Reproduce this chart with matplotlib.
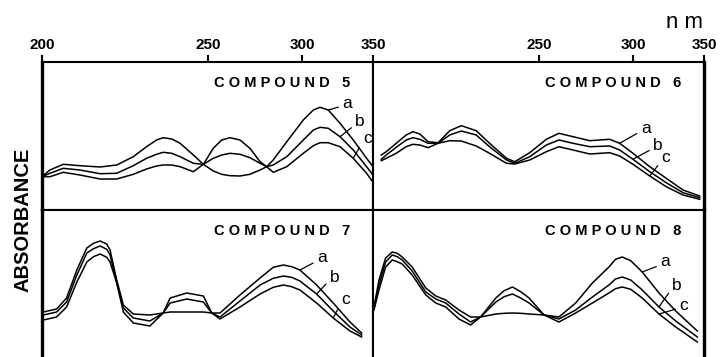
import numpy as np
import matplotlib.pyplot as plt

plt.rcParams['font.family'] = ['Liberation Sans', 'DejaVu Sans']

# Wavelength axis of the original figure is not linear in nm:
# tick positions (in axis units)
scale_nm = [200, 250, 300, 350]
scale_pos = [0, 166, 260, 331]


def fwd(x):
    return np.interp(x, scale_nm, scale_pos)


def inv(p):
    return np.interp(p, scale_pos, scale_nm)


# Compound 5
nm5 = [200, 202.4, 206.4, 211.4, 217.5, 222.5, 227.5, 231.5, 234.5, 236.5, 239.1, 241.6,
       245.6, 248.6, 252.8, 257.3, 261.7, 267.0, 272.3, 277.7, 281.2, 284.7, 291.9, 300.9,
       308.0, 312.7, 318.5, 326.8, 336.1, 345.5, 350]
c5_a = [0.333, 0.40, 0.457, 0.443, 0.43, 0.45, 0.533, 0.633, 0.70, 0.723, 0.71, 0.667,
        0.55, 0.457, 0.39, 0.357, 0.343, 0.34, 0.357, 0.40, 0.433, 0.50, 0.683, 0.90,
        1.00, 1.027, 1.00, 0.867, 0.70, 0.517, 0.433]
c5_b = [0.333, 0.367, 0.417, 0.40, 0.363, 0.367, 0.443, 0.517, 0.557, 0.577, 0.567, 0.533,
        0.467, 0.457, 0.517, 0.55, 0.567, 0.557, 0.523, 0.467, 0.433, 0.45, 0.533, 0.70,
        0.80, 0.827, 0.817, 0.733, 0.60, 0.433, 0.35]
c5_c = [0.333, 0.333, 0.377, 0.35, 0.31, 0.31, 0.357, 0.41, 0.44, 0.45, 0.45, 0.433,
        0.383, 0.457, 0.617, 0.70, 0.723, 0.70, 0.617, 0.483, 0.433, 0.377, 0.433, 0.567,
        0.643, 0.673, 0.673, 0.633, 0.517, 0.367, 0.277]

# Compound 6
nm6 = [202.5, 204.0, 207.0, 210.0, 212.0, 214.1, 216.6, 219.6, 223.1, 226.6, 231.1, 235.1,
       240.2, 242.7, 247.2, 253.9, 260.6, 268.1, 277.0, 287.6, 292.9, 300.0, 311.8, 323.4,
       335.2, 347.0]
c6_a = [0.55, 0.583, 0.667, 0.75, 0.783, 0.76, 0.683, 0.673, 0.793, 0.843, 0.793, 0.667,
        0.517, 0.483, 0.573, 0.707, 0.767, 0.733, 0.693, 0.707, 0.667, 0.567, 0.433, 0.317,
        0.20, 0.14]
c6_b = [0.507, 0.55, 0.627, 0.70, 0.723, 0.707, 0.667, 0.667, 0.75, 0.79, 0.75, 0.633,
        0.50, 0.467, 0.533, 0.65, 0.70, 0.667, 0.633, 0.64, 0.60, 0.507, 0.383, 0.273,
        0.173, 0.123]
c6_c = [0.493, 0.517, 0.567, 0.633, 0.657, 0.65, 0.623, 0.667, 0.693, 0.69, 0.64, 0.567,
        0.467, 0.46, 0.50, 0.583, 0.633, 0.60, 0.56, 0.573, 0.54, 0.457, 0.34, 0.233,
        0.15, 0.107]

# Compound 7
nm7 = [200.4, 204.4, 207.4, 210.5, 213.5, 215.5, 217.5, 219.5, 220.5, 222.5, 224.5, 227.5,
       232.5, 236.5, 238.6, 243.6, 248.6, 252.0, 256.4, 267.0, 277.7, 284.7, 290.1, 294.5,
       298.9, 310.3, 322.0, 333.8, 342.0]
c7_a = [0.46, 0.49, 0.60, 0.88, 1.10, 1.147, 1.17, 1.14, 1.08, 0.78, 0.53, 0.44,
        0.43, 0.45, 0.60, 0.65, 0.62, 0.45, 0.45, 0.63, 0.80, 0.907, 0.93, 0.913,
        0.88, 0.73, 0.55, 0.36, 0.25]
c7_b = [0.43, 0.46, 0.56, 0.83, 1.05, 1.093, 1.12, 1.087, 1.03, 0.76, 0.50, 0.40,
        0.37, 0.45, 0.55, 0.59, 0.56, 0.45, 0.41, 0.57, 0.73, 0.797, 0.82, 0.807,
        0.77, 0.64, 0.47, 0.31, 0.23]
c7_c = [0.38, 0.41, 0.51, 0.76, 0.96, 1.013, 1.04, 1.007, 0.96, 0.75, 0.46, 0.35,
        0.32, 0.45, 0.46, 0.46, 0.46, 0.45, 0.39, 0.51, 0.64, 0.707, 0.73, 0.713,
        0.68, 0.55, 0.40, 0.27, 0.21]

# Compound 8
nm8 = [200.3, 201.8, 203.8, 205.8, 207.3, 208.8, 211.8, 215.9, 218.9, 221.9, 225.9, 229.4,
       232.4, 237.0, 239.5, 242.0, 244.5, 247.0, 252.7, 260.6, 269.5, 278.4, 287.2, 290.7,
       294.3, 298.8, 306.5, 318.3, 330.1, 345.3]
c8_a = [0.51, 0.78, 1.00, 1.06, 1.047, 1.01, 0.91, 0.70, 0.62, 0.58, 0.48, 0.41,
        0.41, 0.60, 0.673, 0.71, 0.663, 0.60, 0.43, 0.41, 0.55, 0.75, 0.91, 0.987,
        1.01, 0.973, 0.86, 0.65, 0.47, 0.27]
c8_b = [0.50, 0.73, 0.96, 1.03, 1.013, 0.98, 0.87, 0.66, 0.59, 0.55, 0.44, 0.36,
        0.41, 0.56, 0.613, 0.64, 0.60, 0.55, 0.43, 0.39, 0.48, 0.61, 0.73, 0.79,
        0.81, 0.78, 0.68, 0.51, 0.37, 0.21]
c8_c = [0.48, 0.68, 0.91, 0.98, 0.963, 0.94, 0.83, 0.63, 0.55, 0.51, 0.39, 0.33,
        0.41, 0.44, 0.447, 0.45, 0.447, 0.44, 0.43, 0.36, 0.45, 0.55, 0.65, 0.693,
        0.71, 0.687, 0.60, 0.44, 0.31, 0.16]

curve_names = ['a', 'b', 'c']

fig = plt.figure(figsize=(7.21, 3.57), dpi=100)

# panel rectangles in figure fractions
W = 331 / 721
x_left = 42 / 721
x_right = 373 / 721
y_mid = 147 / 357
H_top = 148 / 357

panels = [
    # rect, nm, curves, title, leader (index, dx px, dy px) for a/b/c, top ticks
    ([x_left, y_mid, W, H_top], nm5, [c5_a, c5_b, c5_c], 'C O M P O U N D   5',
     [(26, 19, 7), (27, 20, 15), (28, 14, 20)], [200, 250, 300, 350]),
    ([x_right, y_mid, W, H_top], nm6, [c6_a, c6_b, c6_c], 'C O M P O U N D   6',
     [(20, 26, 15), (21, 25, 14), (22, 16, 18)], [250, 300, 350]),
    ([x_left, 0, W, y_mid], nm7, [c7_a, c7_b, c7_c], 'C O M P O U N D   7',
     [(24, 22, 12), (25, 18, 17), (26, 12, 18)], []),
    ([x_right, 0, W, y_mid], nm8, [c8_a, c8_b, c8_c], 'C O M P O U N D   8',
     [(26, 23, 10), (27, 18, 22), (27, 25, 9)], []),
]

for k, (rect, nm, curves, title, leaders, ticks) in enumerate(panels):
    ax = fig.add_axes(rect)
    ax.set_xscale('function', functions=(fwd, inv))
    ax.set_xlim(200, 350)
    top = k < 2
    ax.set_ylim(0 if top else 0.01, 1.48)

    for vals, name, (i, dx, dy) in zip(curves, curve_names, leaders):
        ax.plot(nm, vals, color='black', lw=1.1, solid_joinstyle='round')
        ax.annotate(name, xy=(nm[i], vals[i]), xytext=(dx * 0.72, dy * 0.72),
                    textcoords='offset points', ha='center', va='center',
                    fontsize=12.5,
                    arrowprops=dict(arrowstyle='-', lw=0.9, color='black',
                                    relpos=(0, 0.3), shrinkA=1, shrinkB=0))

    ax.text(0.725, 0.855, title, transform=ax.transAxes, ha='center', va='center',
            fontsize=10.5, fontweight='bold')

    ax.set_yticks([])
    ax.xaxis.set_minor_locator(plt.NullLocator())
    if top:
        ax.xaxis.set_ticks_position('top')
        ax.set_xticks(ticks)
        ax.set_xticklabels([str(t) for t in ticks], fontweight='bold')
        ax.tick_params(axis='x', direction='out', length=5, width=1.5,
                       labelsize=11, pad=2)
    else:
        ax.set_xticks([])
        ax.spines['bottom'].set_visible(False)

    for s in ax.spines.values():
        s.set_linewidth(1.5)
    if k % 2 == 0:
        ax.spines['left'].set_linewidth(2.4)
    else:
        ax.spines['right'].set_linewidth(2.4)

fig.text(23 / 721, 1 - 220 / 357, 'ABSORBANCE', rotation=90, ha='center', va='center',
         fontsize=14.5, fontweight='bold')
fig.text(684 / 721, 1 - 22 / 357, 'n m', ha='center', va='center', fontsize=16)

fig.savefig('out.png', dpi=100)
